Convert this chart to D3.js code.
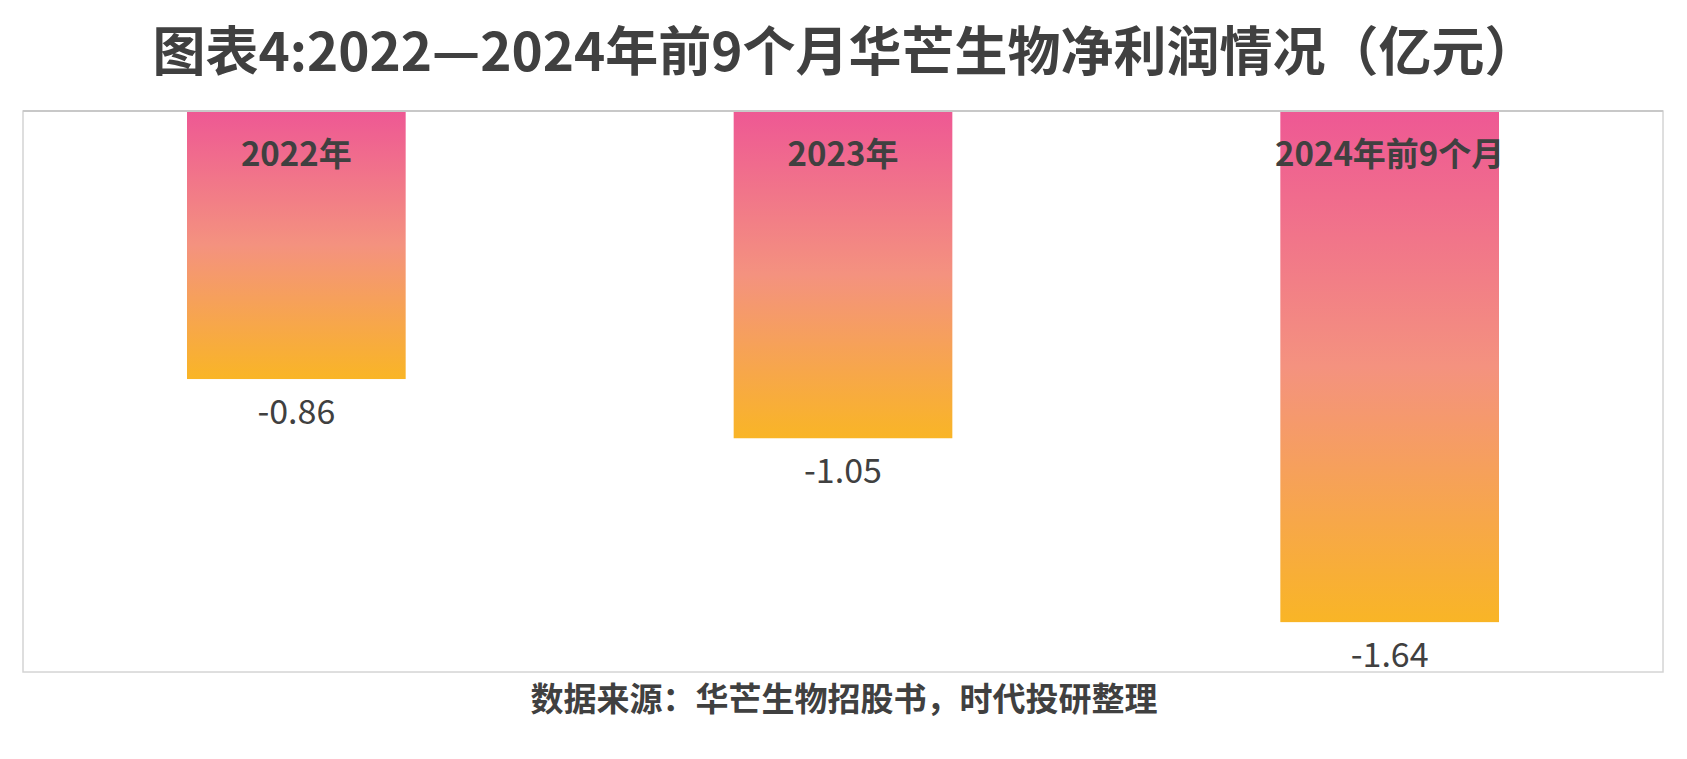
<!DOCTYPE html>
<html>
<head>
<meta charset="utf-8">
<script src="https://cdn.jsdelivr.net/npm/d3@7"></script>
<style>
  body { margin: 0; background: #fff; }
  text { font-family: "Noto Sans CJK SC", "Noto Sans", sans-serif; fill: #404040; }
</style>
</head>
<body>
<svg></svg>
<script>
var width = 1687;
var height = 759;
var frame = { left: 23, top: 111, right: 1663, bottom: 672 };

var categories = ["2022年", "2023年", "2024年前9个月"];
var netProfit = [-0.86, -1.05, -1.64];
var titleText = "图表4:2022—2024年前9个月华芒生物净利润情况（亿元）";
var sourceText = "数据来源：华芒生物招股书，时代投研整理";

var svg = d3.select("svg")
    .attr("width", width)
    .attr("height", height);

// gradient pink -> salmon -> orange, per bar
var grad = svg.append("defs").append("linearGradient")
    .attr("id", "barGrad")
    .attr("x1", 0).attr("y1", 0)
    .attr("x2", 0).attr("y2", 1);
grad.append("stop").attr("offset", "0%").attr("stop-color", "#ee5894");
grad.append("stop").attr("offset", "50%").attr("stop-color", "#f4927f");
grad.append("stop").attr("offset", "100%").attr("stop-color", "#f9b526");

var xscale = d3.scaleBand()
    .domain(categories)
    .range([frame.left, frame.right])
    .paddingInner(0.6)
    .paddingOuter(0.3);

var yscale = d3.scaleLinear()
    .domain([0, -1.8])
    .range([frame.top, frame.bottom]);

// plot frame
svg.append("rect")
    .attr("x", frame.left)
    .attr("y", frame.top)
    .attr("width", frame.right - frame.left)
    .attr("height", frame.bottom - frame.top)
    .attr("fill", "none")
    .attr("stroke", "#d4d4d4")
    .attr("stroke-width", 1.5);

svg.selectAll("rect.bar")
    .data(netProfit)
    .enter().append("rect")
    .attr("class", "bar")
    .attr("x", function(d, i){ return xscale(categories[i]); })
    .attr("y", yscale(0))
    .attr("width", xscale.bandwidth())
    .attr("height", function(d){ return yscale(d) - yscale(0); })
    .attr("fill", "url(#barGrad)");

// top border drawn over bars (slightly darker)
svg.append("line")
    .attr("x1", frame.left).attr("x2", frame.right)
    .attr("y1", frame.top).attr("y2", frame.top)
    .attr("stroke", "#c8c8c8")
    .attr("stroke-width", 2);

// category labels inside bars
svg.selectAll("text.cat")
    .data(categories)
    .enter().append("text")
    .attr("class", "cat")
    .attr("x", function(d){ return xscale(d) + xscale.bandwidth() / 2; })
    .attr("y", 166)
    .attr("text-anchor", "middle")
    .attr("font-size", 33)
    .attr("font-weight", "bold")
    .text(function(d){ return d; });

// value labels under bars
svg.selectAll("text.val")
    .data(netProfit)
    .enter().append("text")
    .attr("class", "val")
    .attr("x", function(d, i){ return xscale(categories[i]) + xscale.bandwidth() / 2; })
    .attr("y", function(d){ return yscale(d) + 45; })
    .attr("text-anchor", "middle")
    .attr("font-size", 34)
    .text(function(d){ return d.toFixed(2); });

svg.append("text")
    .attr("x", 845)
    .attr("y", 71)
    .attr("text-anchor", "middle")
    .attr("font-size", 53)
    .attr("font-weight", "bold")
    .text(titleText);

svg.append("text")
    .attr("x", 844)
    .attr("y", 711)
    .attr("text-anchor", "middle")
    .attr("font-size", 33)
    .attr("font-weight", "bold")
    .text(sourceText);
</script>
</body>
</html>
